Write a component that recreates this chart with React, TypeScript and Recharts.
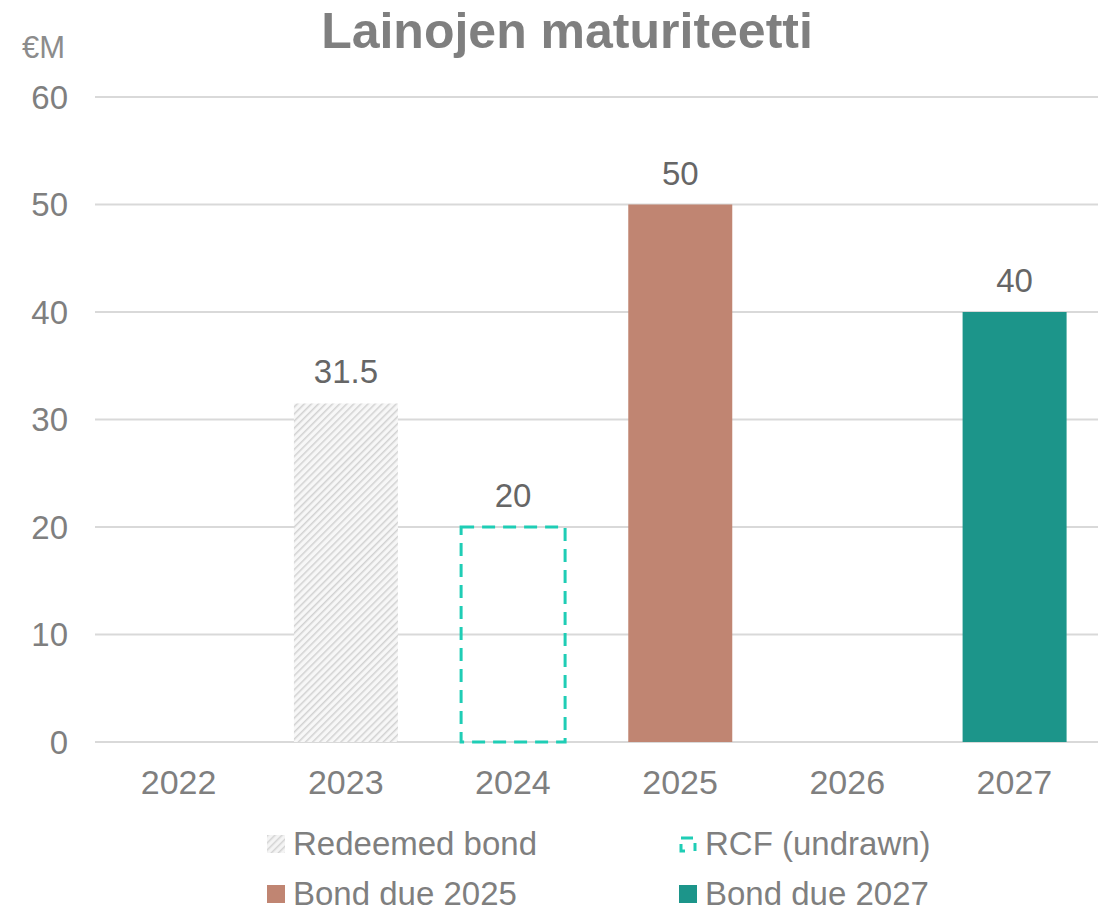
import React from 'react';
import { BarChart, Bar, XAxis, YAxis, CartesianGrid, Legend, LabelList, Cell } from 'recharts';

// Vuodet ja maturiteetit (M€)
const years = ['2022', '2023', '2024', '2025', '2026', '2027'];
const amounts: (number | null)[] = [null, 31.5, 20, 50, null, 40];
const kinds = ['none', 'redeemed', 'rcf', 'bond2025', 'none', 'bond2027'];
const yTicks = [0, 10, 20, 30, 40, 50, 60];

const legendItems = [
  { key: 'redeemed', name: 'Redeemed bond' },
  { key: 'rcf', name: 'RCF (undrawn)' },
  { key: 'bond2025', name: 'Bond due 2025' },
  { key: 'bond2027', name: 'Bond due 2027' },
];

const chartData = years.map((year, i) => ({ year, value: amounts[i], kind: kinds[i] }));

const FONT = '"Liberation Sans", Arial, sans-serif';
const GREY = '#7f7f7f';

const cellStyle = (kind: string) => {
  switch (kind) {
    case 'redeemed':
      return { fill: 'url(#hatch)' };
    case 'rcf':
      return { fill: 'none', stroke: '#1fcdb5', strokeWidth: 3, strokeDasharray: '13 8' };
    case 'bond2025':
      return { fill: '#c08572' };
    case 'bond2027':
      return { fill: '#1c958a' };
    default:
      return { fill: 'none' };
  }
};

const LegendIcon = ({ kind }: { kind: string }) => {
  if (kind === 'redeemed') {
    return (
      <svg width={18} height={18} style={{ marginRight: 8 }}>
        <rect width={18} height={18} fill="url(#hatchIcon)" />
      </svg>
    );
  }
  if (kind === 'rcf') {
    return (
      <svg width={18} height={18} style={{ marginRight: 8 }}>
        <path d="M2 3 H14 M16 8 V16 M2 9 V16 H6" stroke="#1fcdb5" strokeWidth={3} fill="none" />
      </svg>
    );
  }
  return (
    <svg width={18} height={18} style={{ marginRight: 8 }}>
      <rect width={18} height={18} fill={cellStyle(kind).fill} />
    </svg>
  );
};

const CustomLegend = () => (
  <div style={{ position: 'relative', height: 108, fontFamily: FONT, fontSize: 33, color: GREY }}>
    {legendItems.map((item, i) => (
      <div
        key={item.key}
        style={{
          position: 'absolute',
          left: i % 2 === 0 ? 267 : 679,
          top: i < 2 ? 27 : 77,
          display: 'flex',
          alignItems: 'center',
          lineHeight: '30px',
          whiteSpace: 'nowrap',
        }}
      >
        <LegendIcon kind={item.key} />
        <span>{item.name}</span>
      </div>
    ))}
  </div>
);

export default function App() {
  return (
    <div style={{ position: 'relative', width: 1109, height: 910, background: '#fff' }}>
      <style>{`body{margin:0}`}</style>
      <div
        style={{
          position: 'absolute',
          left: 0,
          width: 1134,
          top: 2,
          textAlign: 'center',
          fontFamily: '"Liberation Sans Narrow", "Arial Narrow", "Liberation Sans", sans-serif',
          fontWeight: 700,
          fontSize: 50,
          color: GREY,
          zIndex: 2,
        }}
      >
        Lainojen maturiteetti
      </div>
      <div
        style={{
          position: 'absolute',
          left: 22,
          top: 30,
          fontFamily: FONT,
          fontSize: 31,
          color: '#8c8c8c',
          zIndex: 2,
        }}
      >
        €M
      </div>
      <BarChart
        width={1109}
        height={910}
        data={chartData}
        margin={{ top: 97, right: 11, left: 0, bottom: 0 }}
        barCategoryGap="19%"
      >
        <defs>
          <pattern id="hatch" width={5} height={5} patternUnits="userSpaceOnUse" patternTransform="rotate(45)">
            <rect width={5} height={5} fill="#f7f7f7" />
            <line x1={0} y1={0} x2={0} y2={5} stroke="#d2d2d2" strokeWidth={3} />
          </pattern>
          <pattern id="hatchIcon" width={5} height={5} patternUnits="userSpaceOnUse" patternTransform="rotate(45)">
            <rect width={5} height={5} fill="#f4f4f4" />
            <line x1={0} y1={0} x2={0} y2={5} stroke="#d4d4d4" strokeWidth={3} />
          </pattern>
        </defs>
        <CartesianGrid vertical={false} stroke="#d9d9d9" strokeWidth={2} />
        <XAxis
          dataKey="year"
          height={60}
          axisLine={false}
          tickLine={false}
          tickSize={0}
          tickMargin={28}
          tick={{ fill: GREY, fontSize: 34, fontFamily: FONT }}
        />
        <YAxis
          width={95}
          domain={[0, 60]}
          ticks={yTicks}
          axisLine={false}
          tickLine={false}
          tickSize={0}
          tickMargin={27}
          tick={{ fill: GREY, fontSize: 33, fontFamily: FONT }}
        />
        <Legend verticalAlign="bottom" height={108} content={<CustomLegend />} wrapperStyle={{ left: 0, width: 1109 }} />
        <Bar dataKey="value" isAnimationActive={false}>
          {chartData.map((d, i) => (
            <Cell key={i} {...cellStyle(d.kind)} />
          ))}
          <LabelList dataKey="value" position="top" offset={20} fill="#666666" fontSize={33} fontFamily={FONT} />
        </Bar>
      </BarChart>
    </div>
  );
}
